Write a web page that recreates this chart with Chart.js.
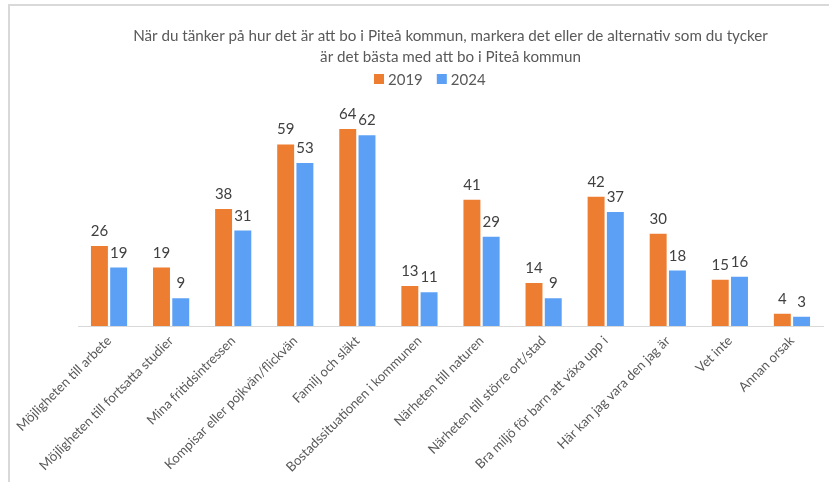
<!DOCTYPE html>
<html>
<head>
<meta charset="utf-8">
<script src="https://cdn.jsdelivr.net/npm/chart.js@4/dist/chart.umd.min.js"></script>
<style>
  html, body { margin: 0; padding: 0; background: #fff; }
  #wrap { position: relative; width: 829px; height: 482px; overflow: hidden; }
  #frame { position: absolute; left: 8px; top: 4px; right: -5px; bottom: -5px;
           border-left: 2px solid #d9d9d9; border-top: 2px solid #d9d9d9; }
  canvas { position: absolute; left: 0; top: 0; }
</style>
</head>
<body>
<div id="wrap">
  <div id="frame"></div>
  <canvas id="c" width="829" height="482"></canvas>
</div>
<script>
const titleLines = [
  "När du tänker på hur det är att bo i Piteå kommun, markera det eller de alternativ som du tycker",
  "är det bästa med att bo i Piteå kommun"
];
const categories = [
  "Möjligheten till arbete",
  "Möjligheten till fortsatta studier",
  "Mina fritidsintressen",
  "Kompisar eller pojkvän/flickvän",
  "Familj och släkt",
  "Bostadssituationen i kommunen",
  "Närheten till naturen",
  "Närheten till större ort/stad",
  "Bra miljö för barn att växa upp i",
  "Här kan jag vara den jag är",
  "Vet inte",
  "Annan orsak"
];
const seriesNames = ["2019", "2024"];
const values2019 = [26, 19, 38, 59, 64, 13, 41, 14, 42, 30, 15, 4];
const values2024 = [19, 9, 31, 53, 62, 11, 29, 9, 37, 18, 16, 3];

const FONT = "Lato, 'Open Sans', sans-serif";
const ORANGE = "#ED7D31";
const BLUE = "#5BA0F5";

const valueLabels = {
  id: "valueLabels",
  afterDatasetsDraw(chart) {
    const ctx = chart.ctx;
    ctx.save();
    ctx.font = "15px " + FONT;
    ctx.fillStyle = "#404040";
    ctx.textAlign = "center";
    ctx.textBaseline = "alphabetic";
    chart.data.datasets.forEach((ds, i) => {
      const meta = chart.getDatasetMeta(i);
      meta.data.forEach((bar, j) => {
        ctx.fillText(String(ds.data[j]), bar.x, bar.y - 10);
      });
    });
    ctx.restore();
  }
};

const customLegend = {
  id: "customLegend",
  afterDraw(chart) {
    const ctx = chart.ctx;
    ctx.save();
    ctx.font = "15px " + FONT;
    ctx.textBaseline = "middle";
    ctx.textAlign = "left";
    const y = 79;
    let x = 374;
    chart.data.datasets.forEach((ds) => {
      ctx.fillStyle = ds.backgroundColor;
      ctx.fillRect(x, y - 5, 10, 10);
      ctx.fillStyle = "#595959";
      ctx.fillText(ds.label, x + 14, y + 1);
      x += 14 + ctx.measureText(ds.label).width + 14;
    });
    ctx.restore();
  }
};

new Chart(document.getElementById("c"), {
  type: "bar",
  data: {
    labels: categories,
    datasets: [
      { label: seriesNames[0], data: values2019, backgroundColor: ORANGE, borderWidth: 0 },
      { label: seriesNames[1], data: values2024, backgroundColor: BLUE, borderWidth: 0 }
    ]
  },
  options: {
    responsive: false,
    animation: false,
    events: [],
    layout: { padding: { left: 0, right: 6, top: 0, bottom: 0 } },
    datasets: { bar: { categoryPercentage: 0.62, barPercentage: 0.88 } },
    plugins: {
      legend: { display: false },
      tooltip: { enabled: false },
      title: {
        display: true,
        fullSize: false,
        text: titleLines,
        color: "#595959",
        font: { family: FONT, size: 15.2, weight: "normal", lineHeight: 1.4 },
        padding: { top: 25, bottom: 43 }
      }
    },
    scales: {
      x: {
        grid: { display: false, drawTicks: false },
        border: { display: true, color: "#d9d9d9", width: 1 },
        ticks: {
          color: "#595959",
          font: { family: FONT, size: 13.2 },
          minRotation: 45, maxRotation: 45,
          autoSkip: false,
          padding: 7
        },
        afterFit(scale) { scale.height = 156; }
      },
      y: {
        min: 0, max: 70,
        display: true,
        grid: { display: false, drawTicks: false },
        border: { display: false },
        ticks: { display: false },
        afterFit(scale) { scale.width = 78; }
      }
    }
  },
  plugins: [valueLabels, customLegend]
});
</script>
</body>
</html>
